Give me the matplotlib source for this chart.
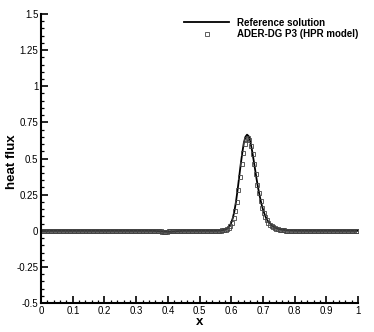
import numpy as np
import matplotlib.pyplot as plt
from matplotlib.ticker import MultipleLocator

plt.rcParams['font.family'] = ['Liberation Sans', 'DejaVu Sans']

# Reference solution
ref_x = [0.0, 0.30, 0.35, 0.37, 0.38, 0.39, 0.40, 0.41, 0.42, 0.43, 0.45, 0.50,
         0.55, 0.56, 0.57, 0.58, 0.585, 0.59, 0.595, 0.60, 0.605, 0.61, 0.615,
         0.62, 0.625, 0.63, 0.635, 0.64, 0.645, 0.65, 0.655, 0.66, 0.665, 0.67,
         0.675, 0.68, 0.685, 0.69, 0.695, 0.70, 0.705, 0.71, 0.715, 0.72, 0.73,
         0.74, 0.75, 0.76, 0.77, 0.78, 0.80, 0.85, 1.0]
ref_y = [0.0, 0.0, 0.0, -0.002, -0.004, -0.006, -0.007, -0.006, -0.004, -0.002, 0.0, 0.0,
         0.0, 0.001, 0.003, 0.008, 0.013, 0.021, 0.034, 0.055, 0.088, 0.135, 0.20,
         0.28, 0.37, 0.46, 0.54, 0.61, 0.65, 0.665, 0.655, 0.62, 0.565, 0.50,
         0.43, 0.36, 0.295, 0.24, 0.19, 0.15, 0.117, 0.09, 0.07, 0.055, 0.034,
         0.021, 0.013, 0.008, 0.005, 0.003, 0.001, 0.0, 0.0]

# ADER-DG P3 (HPR model) points, 200 points on [0, 1]
dg_x = np.linspace(0.0025, 0.9975, 200)
dg_peak = [0.000, 0.001, 0.001, 0.002, 0.003, 0.005, 0.008, 0.013, 0.021, 0.034,
           0.055, 0.088, 0.135, 0.20, 0.28, 0.37, 0.46, 0.54, 0.60, 0.635,
           0.645, 0.63, 0.59, 0.53, 0.46, 0.39, 0.32, 0.26, 0.205, 0.16,
           0.125, 0.095, 0.072, 0.055, 0.042, 0.032, 0.024, 0.018, 0.014, 0.010,
           0.008, 0.006, 0.004, 0.003, 0.002, 0.002, 0.001]
dg_dip = [-0.002, -0.004, -0.006, -0.007, -0.007, -0.006, -0.004, -0.002]
dg_y = np.zeros(200)
dg_y[74:82] = dg_dip
dg_y[110:110 + len(dg_peak)] = dg_peak

x_ticks = [0, 0.1, 0.2, 0.3, 0.4, 0.5, 0.6, 0.7, 0.8, 0.9, 1]
x_labels = ['0', '0.1', '0.2', '0.3', '0.4', '0.5', '0.6', '0.7', '0.8', '0.9', '1']
y_ticks = [-0.5, -0.25, 0, 0.25, 0.5, 0.75, 1, 1.25, 1.5]
y_labels = ['-0.5', '-0.25', '0', '0.25', '0.5', '0.75', '1', '1.25', '1.5']

fig = plt.figure(figsize=(3.74, 3.32), dpi=100)
ax = fig.add_axes([0.110, 0.087, 0.847, 0.871])

ax.plot(ref_x, ref_y, color='black', linewidth=1.3, label='Reference solution')
ax.plot(dg_x, dg_y, linestyle='none', marker='s', markersize=2.6,
        markerfacecolor='none', markeredgecolor='#444444', markeredgewidth=0.6,
        label='ADER-DG P3 (HPR model)')

ax.set_xlim(0, 1)
ax.set_ylim(-0.5, 1.5)
ax.set_xticks(x_ticks)
ax.set_xticklabels(x_labels)
ax.set_yticks(y_ticks)
ax.set_yticklabels(y_labels)
ax.xaxis.set_minor_locator(MultipleLocator(0.02))
ax.yaxis.set_minor_locator(MultipleLocator(0.05))
ax.tick_params(which='major', direction='in', length=5, width=1.2, labelsize=7, pad=2)
ax.tick_params(which='minor', direction='in', length=2.5, width=0.9)

for s in ['top', 'right']:
    ax.spines[s].set_visible(False)
for s in ['left', 'bottom']:
    ax.spines[s].set_linewidth(1.5)

ax.set_xlabel('x', fontsize=9.5, fontweight='bold', labelpad=0)
ax.set_ylabel('heat flux', fontsize=9.5, fontweight='bold')
ax.yaxis.set_label_coords(-0.072, 0.49)

ax.legend(loc='upper left', bbox_to_anchor=(0.44, 1.0), frameon=False,
          prop={'size': 7, 'weight': 'bold'}, handlelength=4.6,
          handletextpad=0.8, labelspacing=0.15, borderaxespad=0)

fig.savefig('out.png', dpi=100)
